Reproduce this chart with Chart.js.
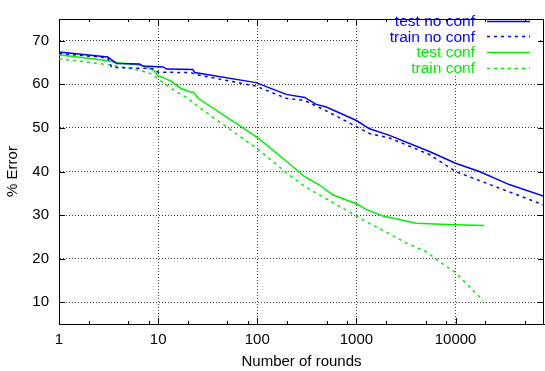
<!DOCTYPE html>
<html>
<head>
<meta charset="utf-8">
<script src="https://cdn.jsdelivr.net/npm/chart.js@4/dist/chart.umd.min.js"></script>
<style>
  html, body { margin: 0; padding: 0; background: #fff; }
  #id-error-chart { display: block; }
</style>
</head>
<body>
<canvas id="id-error-chart" width="545" height="371"></canvas>
<script>
//#region [Chart data.]
const test_no_conf_rounds = [1, 3.1, 3.8, 6.5, 7.0, 11.2, 12.2, 22.4, 23.4, 97, 196, 300, 393, 497, 1000, 1355, 2155, 5450, 10000, 17380, 34800, 78000];
const test_no_conf_error = [67.4, 66.3, 64.8, 64.7, 64.2, 64.0, 63.5, 63.4, 62.7, 60.4, 57.7, 57.0, 55.4, 54.8, 51.7, 49.8, 48.3, 44.6, 41.9, 40.0, 37.0, 34.3];

const train_no_conf_rounds = [1, 3.1, 3.4, 9.0, 10.0, 21.5, 23.4, 97, 196, 300, 497, 1000, 1355, 2155, 5450, 10000, 20000, 78000];
const train_no_conf_error = [67.1, 66.1, 63.9, 63.6, 62.8, 62.7, 62.3, 59.6, 56.8, 56.3, 53.9, 50.3, 48.7, 47.7, 43.9, 40.0, 37.4, 32.3];

const test_conf_rounds = [1, 3, 3.8, 6.8, 8.6, 9.3, 10, 11.2, 13.6, 17.2, 20.8, 22.5, 23.4, 25.3, 99, 205, 300, 424, 580, 1000, 1250, 1850, 4000, 9800, 19500];
const test_conf_error = [66.8, 65.5, 65.0, 64.4, 63.5, 62.9, 61.9, 61.6, 60.7, 59.0, 58.3, 58.2, 57.9, 56.8, 47.9, 42.0, 38.8, 36.9, 34.6, 32.6, 31.3, 29.8, 28.1, 27.8, 27.6];

const train_conf_rounds = [1, 3.4, 6.3, 8.6, 10.8, 14.7, 19.3, 26.3, 99, 205, 300, 650, 1000, 1350, 2000, 3170, 5060, 6810, 10000, 17300, 18800];
const train_conf_error = [65.9, 64.4, 63.3, 62.4, 60.7, 58.5, 57.0, 54.6, 45.3, 39.4, 36.6, 32.2, 29.8, 28.1, 26.1, 23.6, 21.6, 19.4, 16.8, 11.3, 10.2];

const x_tick_labels = [1, 10, 100, 1000, 10000];
const x_minor_steps = [2, 5, 8];
const y_tick_labels = [10, 20, 30, 40, 50, 60, 70];
//#endregion

const font_family = "'Liberation Sans', Arial, sans-serif";
const color_blue = '#0000ff';
const color_green = '#00ee00';

function ToPoints(rounds, errors)
{
  return rounds.map((r, i) => ({ x: r, y: errors[i] }));
}

// gnuplot style frame: box, inward ticks, right aligned legend with sample lines
const frame_plugin =
{
  id: 'frame',
  afterDatasetsDraw(chart)
  {
    // the legend sits on an opaque white box that hides the grid behind it
    const ctx = chart.ctx;
    ctx.save();
    ctx.fillStyle = '#fff';
    ctx.fillRect(360, 10, 178, 64);
    ctx.restore();
  },
  afterDraw(chart)
  {
    const ctx = chart.ctx;
    const area = chart.chartArea;
    const x_scale = chart.scales.x;
    const y_scale = chart.scales.y;

    ctx.save();
    ctx.strokeStyle = '#000';
    ctx.lineWidth = 1;
    ctx.setLineDash([]);

    ctx.beginPath();
    ctx.moveTo(area.left, area.top + 0.5);
    ctx.lineTo(area.right, area.top + 0.5);
    ctx.moveTo(area.right - 0.5, area.top);
    ctx.lineTo(area.right - 0.5, area.bottom);
    ctx.stroke();

    ctx.beginPath();
    for (let decade = 1; decade <= 100000; decade *= 10)
    {
      const px = Math.round(x_scale.getPixelForValue(decade)) + 0.5;
      if (decade <= x_scale.max)
      {
        ctx.moveTo(px, area.bottom); ctx.lineTo(px, area.bottom - 6);
        if (px < 360)
        {
          ctx.moveTo(px, area.top); ctx.lineTo(px, area.top + 6);
        }
      }
      x_minor_steps.forEach(step =>
      {
        const v = decade * step;
        if (v > x_scale.max) return;
        const mx = Math.round(x_scale.getPixelForValue(v)) + 0.5;
        ctx.moveTo(mx, area.bottom); ctx.lineTo(mx, area.bottom - 3);
        ctx.moveTo(mx, area.top); ctx.lineTo(mx, area.top + 3);
      });
    }
    y_tick_labels.forEach(v =>
    {
      const py = Math.round(y_scale.getPixelForValue(v)) + 0.5;
      ctx.moveTo(area.left, py); ctx.lineTo(area.left + 6, py);
      ctx.moveTo(area.right, py); ctx.lineTo(area.right - 6, py);
    });
    ctx.stroke();

    // legend
    ctx.font = '15.5px ' + font_family;
    ctx.textAlign = 'right';
    ctx.textBaseline = 'alphabetic';
    chart.data.datasets.forEach((ds, i) =>
    {
      const row_y = 20.7 + i * 15.6;
      ctx.fillStyle = ds.borderColor;
      ctx.fillText(ds.label, 475, row_y + 5.3);
      ctx.strokeStyle = ds.borderColor;
      ctx.lineWidth = 1.5;
      ctx.setLineDash(ds.borderDash || []);
      ctx.beginPath();
      ctx.moveTo(487, Math.round(row_y) + 0.5);
      ctx.lineTo(530, Math.round(row_y) + 0.5);
      ctx.stroke();
    });
    ctx.restore();
  }
};

function DrawChart()
{
  const data_error =
  {
    datasets:
    [
      {
        label: 'test no conf',
        data: ToPoints(test_no_conf_rounds, test_no_conf_error),
        borderColor: color_blue
      },
      {
        label: 'train no conf',
        data: ToPoints(train_no_conf_rounds, train_no_conf_error),
        borderColor: color_blue,
        borderDash: [3, 4]
      },
      {
        label: 'test conf',
        data: ToPoints(test_conf_rounds, test_conf_error),
        borderColor: color_green
      },
      {
        label: 'train conf',
        data: ToPoints(train_conf_rounds, train_conf_error),
        borderColor: color_green,
        borderDash: [3, 4]
      }
    ]
  };

  const grid_style = { color: 'rgba(0,0,0,0.75)', lineWidth: 1, drawTicks: false };
  const tick_font = { family: font_family, size: 15 };

  const config_error =
  {
    type: 'line',
    data: data_error,
    options:
    {
      responsive: false,
      animation: false,
      layout: { padding: { top: 9, right: 1, bottom: 0, left: 0 } },
      elements:
      {
        point: { radius: 0 },
        line: { borderWidth: 1.5, tension: 0, fill: false }
      },
      plugins:
      {
        legend: { display: false },
        tooltip: { enabled: false }
      },
      scales:
      {
        x:
        {
          type: 'logarithmic',
          min: 1,
          max: 78000,
          afterBuildTicks: scale => { scale.ticks = x_tick_labels.map(v => ({ value: v })); },
          afterFit: scale => { scale.height = 47; },
          grid: grid_style,
          border: { display: true, color: '#000', width: 1, dash: [1, 2] },
          ticks:
          {
            color: '#000',
            font: tick_font,
            padding: 7,
            maxRotation: 0,
            autoSkip: false,
            callback: value => String(value)
          },
          title:
          {
            display: true,
            text: 'Number of rounds',
            color: '#000',
            font: tick_font,
            padding: { top: 0, bottom: 0 }
          }
        },
        y:
        {
          min: 5,
          max: 75,
          afterBuildTicks: scale => { scale.ticks = y_tick_labels.map(v => ({ value: v })); },
          afterFit: scale => { scale.width = 59; },
          grid: grid_style,
          border: { display: true, color: '#000', width: 1, dash: [1, 2] },
          ticks:
          {
            color: '#000',
            font: tick_font,
            padding: 10,
            callback: value => String(value)
          },
          title:
          {
            display: true,
            text: '% Error',
            color: '#000',
            font: tick_font,
            padding: { top: 4, bottom: 0 }
          }
        }
      }
    },
    plugins: [frame_plugin]
  };

  const ctx = document.getElementById('id-error-chart').getContext('2d');
  new Chart(ctx, config_error);
}

document.addEventListener("DOMContentLoaded", function()
{
  DrawChart();
});
</script>
</body>
</html>
